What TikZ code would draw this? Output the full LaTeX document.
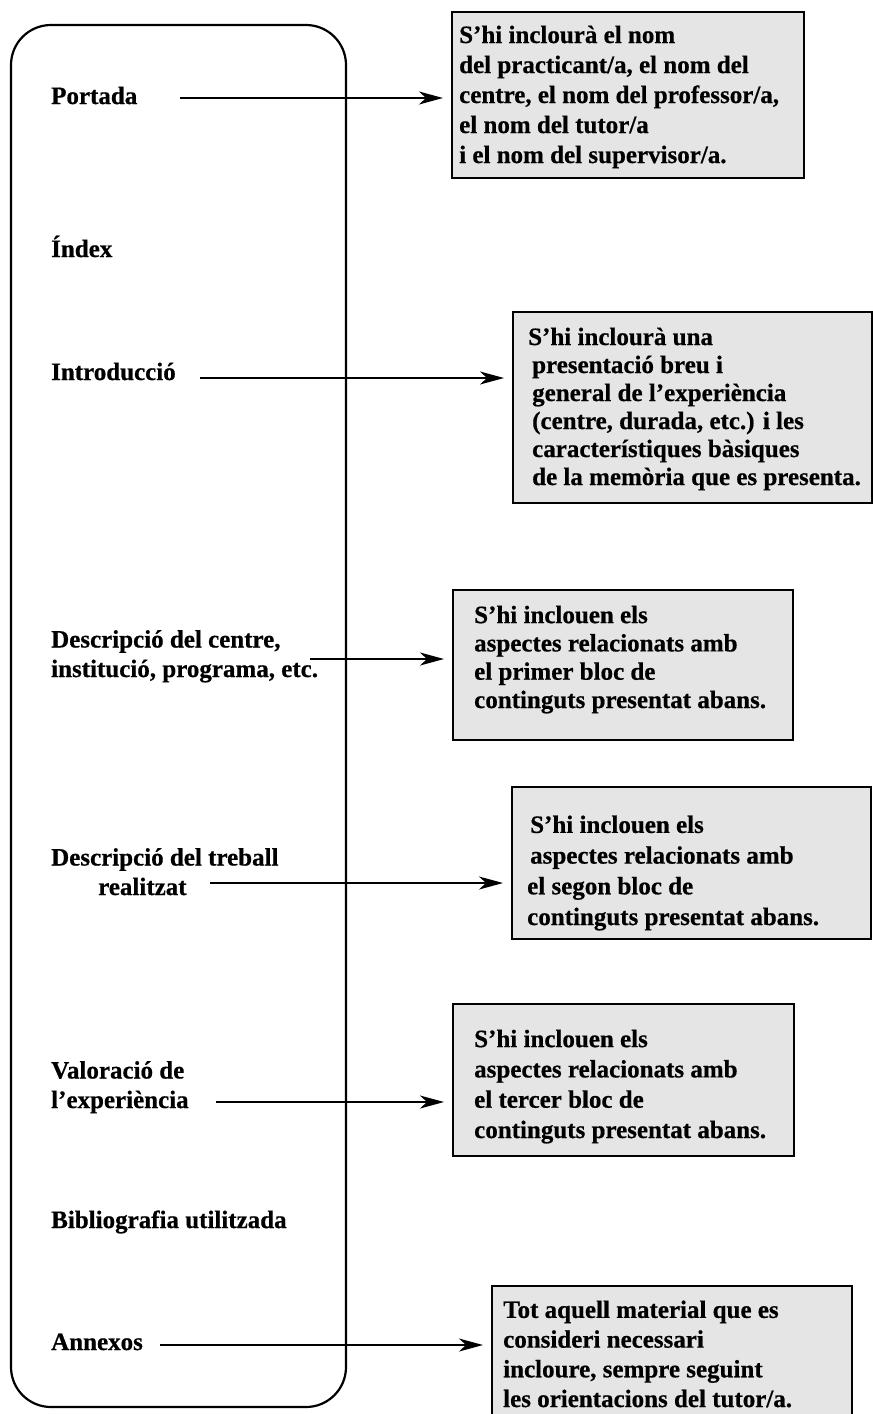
\documentclass[tikz,border=0pt]{standalone}
\usepackage{fontspec}
\setmainfont{Liberation Serif}[BoldFeatures={FakeBold=0.6}]
\usetikzlibrary{arrows.meta}

\tikzset{
  entry/.style={anchor=base west, inner sep=0pt, align=left,
    font=\fontsize{25}{29.5}\selectfont\bfseries},
  notebox/.style={draw, line width=2pt, fill=black!10, anchor=north west,
    inner sep=0pt},
  notetext/.style={entry, font=\fontsize{25}{#1}\selectfont\bfseries},
  notetext/.default=29.5,
  link/.style={line width=1.8pt, shorten >=8pt,
    -{Stealth[length=24pt,width=13pt,inset=7pt]}}
}

\begin{document}
\begin{tikzpicture}[x=1pt, y=-1pt]
\useasboundingbox (0,0) rectangle (873,1414);

% the frame of the report
\draw[line width=2.2pt, rounded corners=40pt] (11,25) rectangle (346,1407);

% sections of the report (placed at the last baseline)
\node[entry] (portada) at (51,104) {Portada};
\node[entry] (index) at (51,257) {Índex};
\node[entry] (intro) at (51,380) {Introducció};
\node[entry] (centre) at (51,677) {Descripció del centre,\\institució, programa, etc.};
\node[entry] (treball) at (51,895) {Descripció del treball\\\hspace{47pt}realitzat};
\node[entry] (valoracio) at (51,1108) {Valoració de\\l’experiència};
\node[entry] (biblio) at (51,1228) {Bibliografia utilitzada};
\node[entry] (annexos) at (51,1350) {Annexos};

% notes
\node[notebox, minimum width=352pt, minimum height=166pt] (b1) at (451,11) {};
\node[notetext=30] (t1) at (459,163) {S’hi inclourà el nom\\del practicant/a, el nom del\\centre, el nom del professor/a,\\el nom del tutor/a\\i el nom del supervisor/a.};

\node[notebox, minimum width=359pt, minimum height=191pt] (b2) at (512,311) {};
\node[notetext=28] (t2) at (528,485) {S’hi inclourà una\\\hspace{4pt}presentació breu i\\\hspace{4pt}general de l’experiència\\\hspace{4pt}(centre, durada, etc.) i les\\\hspace{4pt}característiques bàsiques\\\hspace{4pt}de la memòria que es presenta.};

\node[notebox, minimum width=340pt, minimum height=150pt] (b3) at (452,589) {};
\node[notetext=28.3] (t3) at (474,708) {S’hi inclouen els\\aspectes relacionats amb\\el primer bloc de\\continguts presentat abans.};

\node[notebox, minimum width=359pt, minimum height=152pt] (b4) at (511,786) {};
\node[notetext=30.7] (t4) at (530,925) {S’hi inclouen els\\aspectes relacionats amb\\\hspace{-3pt}el segon bloc de\\\hspace{-3pt}continguts presentat abans.};

\node[notebox, minimum width=341pt, minimum height=152pt] (b5) at (452,1003) {};
\node[notetext=30.3] (t5) at (474,1138) {S’hi inclouen els\\aspectes relacionats amb\\el tercer bloc de\\continguts presentat abans.};

\node[notebox, minimum width=360pt, minimum height=140pt] (b6) at (491,1285) {};
\node[notetext=29.7] (t6) at (503,1407) {Tot aquell material que es\\consideri necessari\\incloure, sempre seguint\\les orientacions del tutor/a.};

% arrows
\coordinate (a1) at (180,98);
\coordinate (a2) at (200,378);
\coordinate (a3) at (310,659);
\coordinate (a4) at (210,883);
\coordinate (a5) at (216,1102);
\coordinate (a6) at (160,1345);
\draw[link] (a1) -- (a1 -| b1.west);
\draw[link] (a2) -- (a2 -| b2.west);
\draw[link] (a3) -- (a3 -| b3.west);
\draw[link] (a4) -- (a4 -| b4.west);
\draw[link] (a5) -- (a5 -| b5.west);
\draw[link] (a6) -- (a6 -| b6.west);
\end{tikzpicture}
\end{document}
